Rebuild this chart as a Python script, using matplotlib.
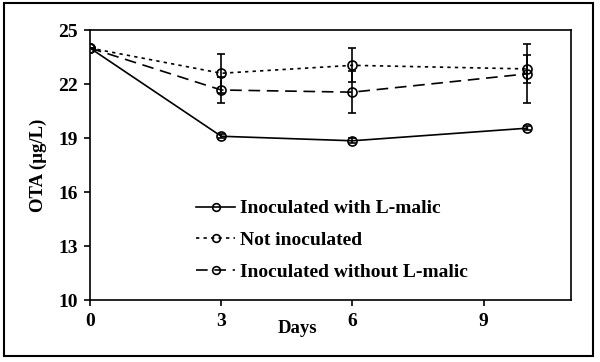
import matplotlib
matplotlib.use("Agg")
import matplotlib.pyplot as plt
from matplotlib.patches import Rectangle

plt.rcParams["font.family"] = ["Liberation Serif", "DejaVu Serif"]
plt.rcParams["font.weight"] = "bold"

days = [0, 3, 6, 10]

with_malic = [24.0, 19.1, 18.85, 19.55]
with_malic_err = [0.0, 0.1, 0.15, 0.1]

not_inoc = [24.0, 22.6, 23.04, 22.84]
not_inoc_err = [0.0, 1.07, 0.95, 0.77]

without_malic = [24.0, 21.67, 21.55, 22.57]
without_malic_err = [0.0, 0.7, 1.18, 1.63]

labels = ["Inoculated with L-malic", "Not inoculated", "Inoculated without L-malic"]

fig = plt.figure(figsize=(6.0, 3.62), dpi=100)
ax = fig.add_axes([0.15, 0.171, 0.802, 0.746])

common = dict(color="black", marker="o", markersize=6.5, markerfacecolor="none",
              markeredgewidth=1.2, linewidth=1.2, ecolor="black",
              elinewidth=1.2, capsize=3, capthick=1.2)

c1 = ax.errorbar(days, with_malic, yerr=with_malic_err, linestyle="-", **common)
c2 = ax.errorbar(days, not_inoc, yerr=not_inoc_err, linestyle=(0, (2, 2.5)), **common)
c3 = ax.errorbar(days, without_malic, yerr=without_malic_err,
                 linestyle=(0, (7, 4)), **common)

ax.set_xlim(0, 11)
ax.set_ylim(10, 25)
ax.set_xticks([0, 3, 6, 9])
ax.set_yticks([10, 13, 16, 19, 22, 25])
ax.tick_params(direction="out", length=4, width=1.2, labelsize=14, pad=5)
for lab in ax.get_xticklabels() + ax.get_yticklabels():
    lab.set_fontweight("bold")
for sp in ax.spines.values():
    sp.set_linewidth(1.2)

ax.set_xlabel("Days", fontsize=13.5, fontweight="bold")
ax.xaxis.set_label_coords(0.432, -0.075)
ax.set_ylabel("OTA (µg/L)", fontsize=13.5, fontweight="bold", labelpad=8)

handles = [c[0] for c in (c1, c2, c3)]
leg = ax.legend(handles, labels, loc="upper left", bbox_to_anchor=(0.205, 0.4),
                frameon=False, fontsize=14, handlelength=2.0, handletextpad=0.25,
                labelspacing=0.72, borderaxespad=0, markerscale=0.85)
for t in leg.get_texts():
    t.set_fontweight("bold")

fig.patches.append(Rectangle((4 / 600, 1 - 356 / 362), 589 / 600, 353 / 362,
                             transform=fig.transFigure, fill=False,
                             edgecolor="black", linewidth=1.5))

fig.savefig("out.png", dpi=100)
